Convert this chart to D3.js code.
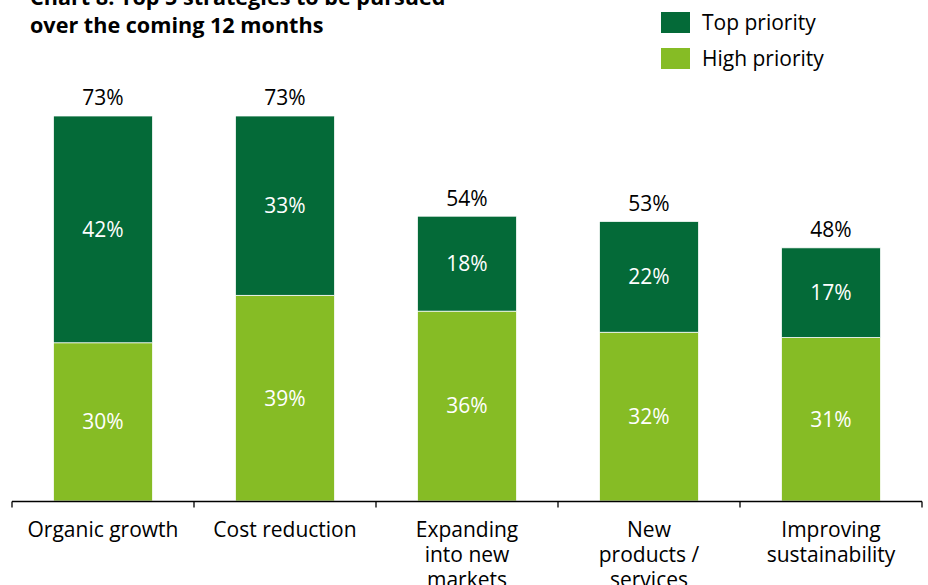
<!DOCTYPE html>
<html><head><meta charset="utf-8">
<script src="https://cdn.jsdelivr.net/npm/d3@7"></script>
<style>body{margin:0;background:#fff}svg{display:block;font-family:"Open Sans",sans-serif}</style>
</head><body><svg id="c" width="928" height="585"></svg>
<script>
const categories = ["Organic growth","Cost reduction","Expanding into new markets","New products / services","Improving sustainability"];
const categoryLines = [["Organic growth"],["Cost reduction"],["Expanding","into new","markets"],["New","products /","services"],["Improving","sustainability"]];
const highPriority = [30,39,36,32,31];
const topPriority = [42,33,18,22,17];
const totals = [73,73,54,53,48];
const seriesNames = ["Top priority","High priority"];
const colors = ["#046a38","#86bc25"];
const titleLines = ["Chart 8: Top 5 strategies to be pursued","over the coming 12 months"];

const svg = d3.select("#c");
const x = d3.scaleBand().domain(categories).range([12,922]).paddingInner(0.456).paddingOuter(0.228);
const y = d3.scaleLinear().domain([0,73]).range([501,116]);
const fs = 21;

// title
svg.append("g").selectAll("text").data(titleLines).join("text")
  .attr("x",30).attr("y",(d,i)=>5+i*28).attr("font-size",21.6).attr("font-weight",700).attr("fill","#000").text(d=>d);

// legend
const lg = svg.append("g");
seriesNames.forEach((s,i)=>{
  lg.append("rect").attr("x",661).attr("y",12+i*36).attr("width",29).attr("height",21).attr("fill",colors[i]);
  lg.append("text").attr("x",702).attr("y",23+i*36).attr("dy","0.35em").attr("font-size",fs).attr("fill","#000").text(s);
});

const g = svg.append("g");
categories.forEach((c,i)=>{
  const bx = x(c), bw = x.bandwidth();
  g.append("rect").attr("x",bx).attr("width",bw).attr("y",y(highPriority[i])).attr("height",y(0)-y(highPriority[i]))
    .attr("fill",colors[1]).attr("stroke","#fff").attr("stroke-width",0.75);
  g.append("rect").attr("x",bx).attr("width",bw).attr("y",y(totals[i])).attr("height",y(highPriority[i])-y(totals[i]))
    .attr("fill",colors[0]).attr("stroke","#fff").attr("stroke-width",0.75);
  g.append("text").attr("x",bx+bw/2).attr("y",(y(0)+y(highPriority[i]))/2).attr("dy","0.35em").attr("text-anchor","middle")
    .attr("font-size",fs).attr("fill","#fff").text(highPriority[i]+"%");
  g.append("text").attr("x",bx+bw/2).attr("y",(y(highPriority[i])+y(totals[i]))/2).attr("dy","0.35em").attr("text-anchor","middle")
    .attr("font-size",fs).attr("fill","#fff").text(topPriority[i]+"%");
  g.append("text").attr("x",bx+bw/2).attr("y",y(totals[i])-18).attr("dy","0.35em").attr("text-anchor","middle")
    .attr("font-size",fs).attr("fill","#000").text(totals[i]+"%");
});

// axis
const ax = svg.append("g").attr("transform","translate(0,501.5)");
const [r0, r1] = x.range();
ax.append("line").attr("x1",r0).attr("x2",r1).attr("stroke","#000").attr("stroke-width",1.3);
const edges = [r0].concat(categories.slice(1).map(c=>x(c)-x.step()*x.paddingInner()/2)).concat([r1]);
ax.selectAll("line.t").data(edges).join("line").attr("class","t")
  .attr("x1",d=>d).attr("x2",d=>d).attr("y1",0).attr("y2",6).attr("stroke","#000").attr("stroke-width",1.3);
categories.forEach((c,i)=>{
  const t = ax.append("text").attr("text-anchor","middle").attr("font-size",fs).attr("fill","#000");
  categoryLines[i].forEach((l,j)=>{
    t.append("tspan").attr("x",x(c)+x.bandwidth()/2).attr("y",28+j*25).attr("dy","0.35em").text(l);
  });
});
</script></body></html>
